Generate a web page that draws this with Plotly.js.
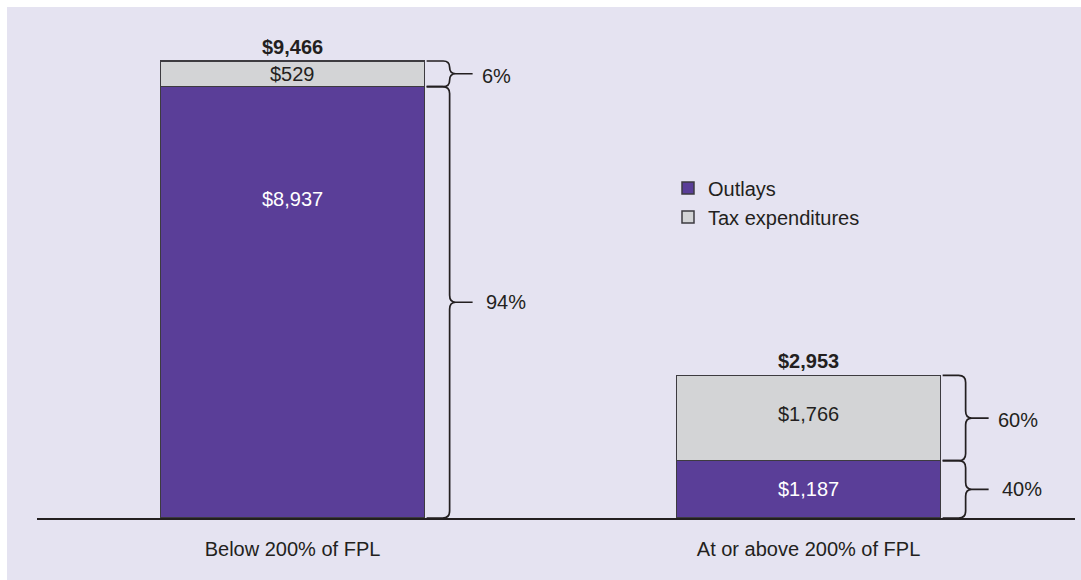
<!DOCTYPE html>
<html><head><meta charset="utf-8">
<script src="https://cdn.plot.ly/plotly-3.0.1.min.js"></script>
<style>
html,body{margin:0;padding:0;background:#ffffff;}
#chart{position:absolute;left:7px;top:7px;width:1074px;height:573px;}
</style></head><body><div id="chart"></div>
<script>
// ---- data ----
const categories = ["Below 200% of FPL", "At or above 200% of FPL"];
const seriesNames = ["Outlays", "Tax expenditures"];
const outlays = [8937, 1187];
const taxExpenditures = [529, 1766];

// ---- styling / layout constants ----
const W = 1074, H = 573;
const M = {l: 30, r: 6, t: 20, b: 62};
const plotH = H - M.t - M.b;
const yMax = 10170;
const pxPerUnit = plotH / yMax;
const barWidth = 0.512;
const purple = '#5a3e98', gray = '#d3d4d6', ink = '#231f20', outline = '#3d3b40';
const bg = '#e5e3f1';
const FONT = 'Liberation Sans, Arial, sans-serif';
const FS = 20;
const outlayLabelFrac = [0.74, 0.5];
const taxLabelFrac = [0.5, 0.55];

const totals = outlays.map((v, i) => v + taxExpenditures[i]);
const fmt = v => '$' + v.toLocaleString('en-US');
const pct = (v, t) => Math.round(v / t * 100) + '%';

const traces = [
  {type: 'bar', name: seriesNames[0], x: categories, y: outlays, width: barWidth,
   marker: {color: purple, line: {color: outline, width: 1.5}}, hoverinfo: 'skip'},
  {type: 'bar', name: seriesNames[1], x: categories, y: taxExpenditures, width: barWidth,
   marker: {color: gray, line: {color: outline, width: 1.5}}, hoverinfo: 'skip'}
];

const annotations = [];
const shapes = [];

function brace(i, lo, hi) {
  const hPx = (hi - lo) * pxPerUnit;
  const rPx = Math.min(7, hPx / 4);
  const r = rPx / pxPerUnit;
  const mid = (lo + hi) / 2;
  const x0 = 2, sp = 25, tip = 48, nub = 6;
  const path =
    `M${x0},${hi} L${sp - rPx},${hi} Q${sp},${hi} ${sp},${hi - r} ` +
    `L${sp},${mid + r} Q${sp},${mid} ${sp + nub},${mid} L${tip},${mid} ` +
    `M${sp + nub},${mid} Q${sp},${mid} ${sp},${mid - r} ` +
    `L${sp},${lo + r} Q${sp},${lo} ${sp - rPx},${lo} L${x0},${lo}`;
  return {type: 'path', xref: 'x', yref: 'y', xsizemode: 'pixel', xanchor: i + barWidth / 2,
          path: path, line: {color: ink, width: 1.7}};
}

categories.forEach((c, i) => {
  const o = outlays[i], t = taxExpenditures[i], tot = totals[i];
  // total above bar
  annotations.push({x: i, y: tot, xref: 'x', yref: 'y', text: '<b>' + fmt(tot) + '</b>',
    showarrow: false, yanchor: 'bottom', yshift: 1, font: {family: FONT, size: FS, color: ink}});
  // in-bar labels
  annotations.push({x: i, y: o * outlayLabelFrac[i], xref: 'x', yref: 'y', text: fmt(o),
    showarrow: false, yanchor: 'middle', font: {family: FONT, size: FS, color: '#ffffff'}});
  annotations.push({x: i, y: o + t * taxLabelFrac[i], xref: 'x', yref: 'y', text: fmt(t),
    showarrow: false, yanchor: 'middle', font: {family: FONT, size: FS, color: ink}});
  // braces
  shapes.push(brace(i, 0, o));
  shapes.push(brace(i, o, tot));
  // percent labels
  annotations.push({x: i + barWidth / 2, y: o / 2, xref: 'x', yref: 'y', text: pct(o, tot),
    showarrow: false, xanchor: 'left', yanchor: 'middle', xshift: 59,
    font: {family: FONT, size: FS, color: ink}});
  annotations.push({x: i + barWidth / 2, y: o + t / 2, xref: 'x', yref: 'y', text: pct(t, tot),
    showarrow: false, xanchor: 'left', yanchor: 'middle', xshift: 55, yshift: -2,
    font: {family: FONT, size: FS, color: ink}});
});

const layout = {
  width: W, height: H,
  margin: M,
  paper_bgcolor: bg, plot_bgcolor: bg,
  barmode: 'stack',
  showlegend: true,
  legend: {x: (661 - M.l) / (W - M.l - M.r), y: 0.712, xanchor: 'left', yanchor: 'top',
           traceorder: 'normal', bgcolor: 'rgba(0,0,0,0)', borderwidth: 0,
           font: {family: FONT, size: FS, color: ink}},
  xaxis: {type: 'category', range: [-0.4952, 1.5164], showline: true, linecolor: ink, linewidth: 2,
          showgrid: false, zeroline: false, ticks: 'outside', ticklen: 12, tickcolor: 'rgba(0,0,0,0)',
          tickfont: {family: FONT, size: FS, color: ink}, fixedrange: true},
  yaxis: {range: [0, yMax], visible: false, fixedrange: true},
  annotations: annotations,
  shapes: shapes
};

Plotly.newPlot('chart', traces, layout, {displayModeBar: false, staticPlot: true});
</script></body></html>
